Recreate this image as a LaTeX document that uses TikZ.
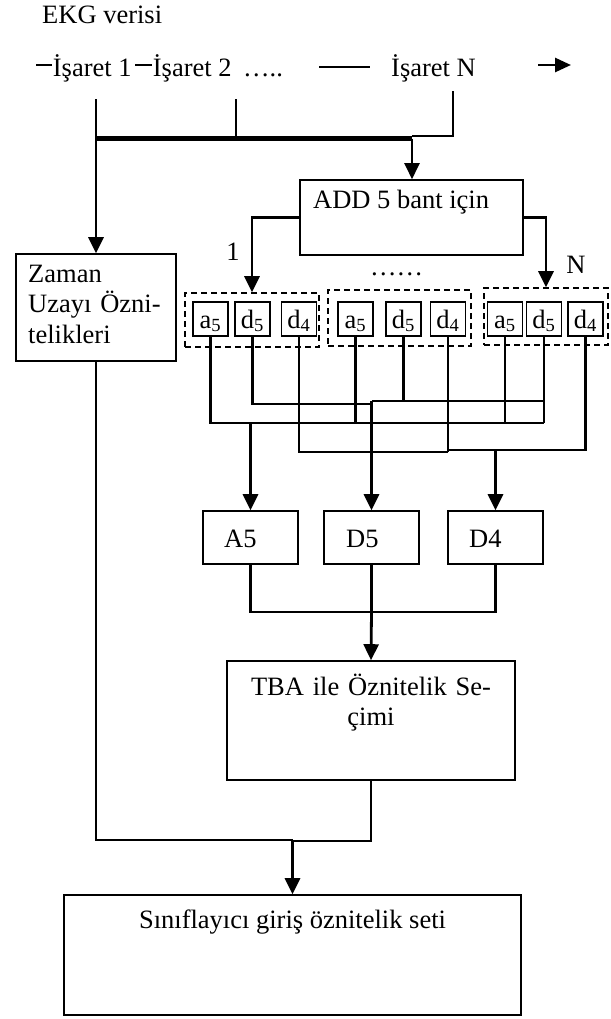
\documentclass[tikz,border=0pt]{standalone}
\usepackage{fontspec}
\setmainfont{Liberation Serif}
\usetikzlibrary{arrows.meta}
\begin{document}
\begin{tikzpicture}[x=1bp,y=-1bp,
  every node/.style={font=\fontsize{26.5bp}{30.5bp}\selectfont, inner sep=0pt},
  box/.style={draw, line width=1.6bp, rectangle, inner sep=0pt},
  sbox/.style={draw, line width=1.6bp, minimum width=35bp, text height=21bp, text depth=3bp, inner ysep=5bp, inner xsep=0pt},
  dbox/.style={draw, dash pattern=on 6bp off 4bp, line width=1.6bp},
  wire/.style={line width=2.2bp},
  dashline/.style={line width=1.8bp},
  arr/.style={line width=2.8bp, -{Triangle[length=16bp,width=15bp]}},
  bus/.style={line width=4.5bp},
]
\useasboundingbox (0,0) rectangle (611,1019);

% ---- top texts
\node[anchor=base west] (ekg) at (42,23.3) {EKG verisi};
\node[anchor=base west] (s1) at (52.7,76) {İşaret 1};
\node[anchor=base west] (s2) at (152.7,76) {İşaret 2};
\node[anchor=base west] (sdots) at (243,76) {…..};
\node[anchor=base west] (sN) at (391,76) {İşaret N};
\draw[dashline] (36,65) -- (51.7,65);
\draw[dashline] (135,65) -- (152,65);
\draw[dashline] (319,67) -- (370,67);
\draw[line width=2.7bp, -{Triangle[length=16bp,width=14bp]}] (538,65) -- (571,65);

% ---- boxes
\node[box, minimum width=223bp, minimum height=75bp] (add) at (411.5,217.5) {};
\node[anchor=base west] (addtxt) at (313,208) {ADD 5 bant için};
\node[box, minimum width=160bp, minimum height=107bp] (zaman) at (96,307.5) {};
\node[anchor=base west, text width=150bp, align=left] (ztxt) at (28,282) {Zaman\\Uzayı Özni-\\telikleri};
\node (one) at (233,252) {1};
\node (nlab) at (576,265) {N};
\node[anchor=base west] (mdots) at (370,275) {……};

% dashed groups
\node[dbox, minimum width=134bp, minimum height=54bp] (g1) at (252,320) {};
\node[dbox, minimum width=143bp, minimum height=56bp] (g2) at (399.5,318) {};
\node[dbox, minimum width=124bp, minimum height=57bp] (g3) at (546,316.5) {};

\node[sbox] (a1) at (210.5,319) {a\textsubscript{5}};
\node[sbox] (d1) at (252.5,319) {d\textsubscript{5}};
\node[sbox] (f1) at (299,319) {d\textsubscript{4}};
\node[sbox] (a2) at (355.5,319) {a\textsubscript{5}};
\node[sbox] (d2) at (403.5,319) {d\textsubscript{5}};
\node[sbox] (f2) at (448,319) {d\textsubscript{4}};
\node[sbox] (a3) at (505,319) {a\textsubscript{5}};
\node[sbox] (d3) at (544,319) {d\textsubscript{5}};
\node[sbox] (f3) at (585.5,319) {d\textsubscript{4}};

\node[box, minimum width=95bp, minimum height=53bp] (A5) at (250.5,537.5) {};
\node[box, minimum width=95bp, minimum height=53bp] (D5) at (371.5,537.5) {};
\node[box, minimum width=95bp, minimum height=53bp] (D4) at (495.5,537.5) {};
\node[anchor=base west] (A5t) at (224,547) {A5};
\node[anchor=base west] (D5t) at (346,547) {D5};
\node[anchor=base west] (D4t) at (469,547) {D4};

\node[box, minimum width=288bp, minimum height=119bp] (tba) at (371,720.5) {};
\node[anchor=base, text width=280bp, align=center] (tbatxt) at (371,695) {TBA ile Öznitelik Se-\\çimi};
\node[box, minimum width=457bp, minimum height=120bp] (cls) at (292.5,955) {};
\node[anchor=base] (clstxt) at (292.5,928) {Sınıflayıcı giriş öznitelik seti};

% ---- top connectors
\coordinate (t1) at (96,99);
\coordinate (t2) at (236,99);
\coordinate (tN) at (453,91);
\coordinate (b1) at (96,138.5);
\coordinate (b2) at (236,138.5);
\coordinate (b3) at (412,138.5);
\draw[wire] (tN) -- (453,136) -- (412,136);
\draw[wire] (t2) -- (b2);
\draw[bus] (b1) -- (b3);
\draw[arr] (t1) -- (zaman.north);
\draw[arr, line width=2.3bp] (b3) -- (b3 |- add.north);

\draw[arr] (add.west) -| (g1.north);
\draw[arr] (add.east) -| (g3.north);

% ---- a5 wires (A bus)
\draw[wire] (a1.south) |- (544,423);
\draw[wire] (a2.south) -- (a2.south |- 0,423);
\draw[wire] (a3.south) -- (a3.south |- 0,423);
\draw[wire] (d3.south) -- (d3.south |- 0,423);
% d5 wires
\draw[wire] (d1.south) |- (372,404);
\draw[wire] (372,401) -- (544,401);
\draw[wire] (d2.south) -- (d2.south |- 0,401);
% d4 wires
\draw[wire] (f1.south) |- (448,452);
\draw[wire] (f2.south) -- (f2.south |- 0,452);
\draw[wire] (448,450) -| (f3.south);

% drops
\draw[arr] (A5.north |- 0,423) -- (A5.north);
\draw[arr] (D5.north |- 0,401) -- (D5.north);
\draw[arr] (D4.north |- 0,450) -- (D4.north);

% lower
\draw[wire] (A5.south) -- (A5.south |- 0,612) -| (D4.south);
\draw[wire] (D5.south) -- (D5.south |- 0,612);
\draw[arr] (D5.south |- 0,612) -- (tba.north);
\draw[wire] (tba.south) |- (cls.north |- 0,841);
\draw[wire] (zaman.south) |- (cls.north |- 0,840);
\draw[arr] (cls.north |- 0,840) -- (cls.north);
\end{tikzpicture}
\end{document}
